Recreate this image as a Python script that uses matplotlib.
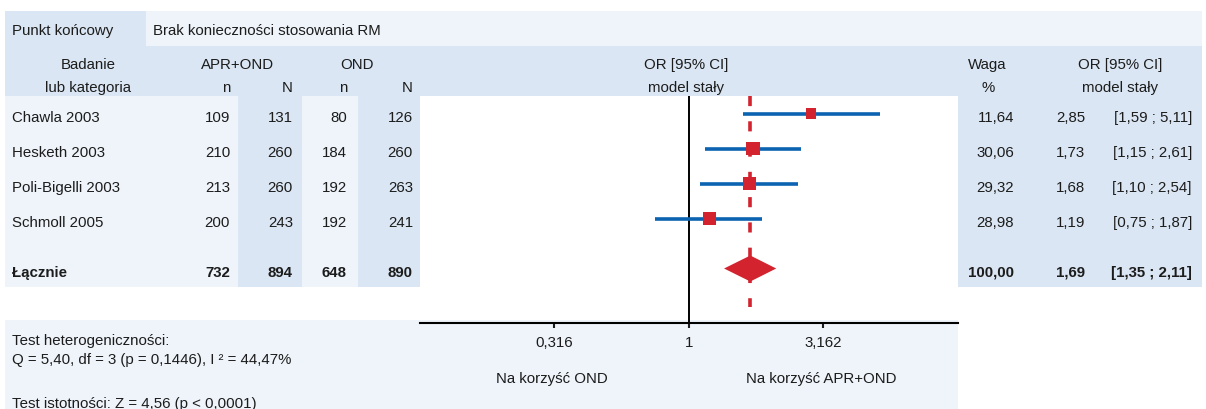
import matplotlib
matplotlib.use("Agg")
import matplotlib.pyplot as plt
from matplotlib.patches import Rectangle, Polygon
from matplotlib.ticker import NullLocator

plt.rcParams['font.family'] = ['Liberation Sans', 'DejaVu Sans']
plt.rcParams['font.size'] = 10.8

# ---------- DATA ---------- #
endpoint = "Brak konieczności stosowania RM"
studies = ["Chawla 2003", "Hesketh 2003", "Poli-Bigelli 2003", "Schmoll 2005"]
n_apr = [109, 210, 213, 200]
N_apr = [131, 260, 260, 243]
n_ond = [80, 184, 192, 192]
N_ond = [126, 260, 263, 241]
weights = [11.64, 30.06, 29.32, 28.98]
odds = [2.85, 1.73, 1.68, 1.19]
ci_low = [1.59, 1.15, 1.10, 0.75]
ci_high = [5.11, 2.61, 2.54, 1.87]
total_counts = [732, 894, 648, 890]
total_weight = 100.00
total_or = 1.69
total_low = 1.35
total_high = 2.11
het_title = "Test heterogeniczności:"
het_stats = "Q = 5,40, df = 3 (p = 0,1446), I ² = 44,47%"
sig_stats = "Test istotności: Z = 4,56 (p < 0,0001)"
tick_values = [0.316, 1, 3.162]
tick_labels = ["0,316", "1", "3,162"]

# ---------- STYLE ---------- #
W, H = 1206, 410
DARK = "#dae6f3"
LIGHT = "#eef4fa"
BLUE = "#0b63b1"
RED = "#d3232e"
INK = "#1c1c1c"


def fmt(v):
    return f"{v:.2f}".replace(".", ",")


fig = plt.figure(figsize=(W / 100, H / 100), dpi=100)
bg = fig.add_axes([0, 0, 1, 1])
bg.set_xlim(0, W)
bg.set_ylim(H, 0)
bg.axis("off")


def box(x, y, w, h, c):
    bg.add_patch(Rectangle((x, y), w, h, facecolor=c, edgecolor="none", zorder=0))


def txt(x, yc, s, ha="left", bold=False):
    bg.text(x, yc + 5.4, s, ha=ha, va="baseline", color=INK,
            fontweight="bold" if bold else "normal")


# backgrounds
box(5, 12, 141, 35, DARK)
box(146, 12, 1056, 35, LIGHT)
box(5, 47, 1197, 50, DARK)
box(5, 97, 415, 191, LIGHT)
box(238, 97, 64, 191, DARK)
box(358, 97, 62, 191, DARK)
box(958, 97, 244, 191, DARK)
box(5, 321, 953, 89, LIGHT)

# header
txt(12, 30, "Punkt końcowy")
txt(153, 30, endpoint)
txt(88, 64, "Badanie", "center")
txt(88, 87, "lub kategoria", "center")
txt(238, 64, "APR+OND", "center")
txt(357, 64, "OND", "center")
for x, s in zip([230, 293, 347, 413], ["n", "N", "n", "N"]):
    txt(x, 87, s, "right")
txt(686, 64, "OR [95% CI]", "center")
txt(686, 87, "model stały", "center")
txt(987, 64, "Waga", "center")
txt(988, 87, "%", "center")
txt(1120, 64, "OR [95% CI]", "center")
txt(1120, 87, "model stały", "center")

# rows (marks at row_y, text sits a little lower like the original)
row_y = [114.5 + 35 * i for i in range(len(studies))]
total_y = 269.5
dy = 2
for i, y in enumerate(row_y):
    t = y + dy
    txt(12, t, studies[i])
    txt(230, t, str(n_apr[i]), "right")
    txt(293, t, str(N_apr[i]), "right")
    txt(347, t, str(n_ond[i]), "right")
    txt(413, t, str(N_ond[i]), "right")
    txt(1014, t, fmt(weights[i]), "right")
    txt(1085, t, fmt(odds[i]), "right")
    txt(1192, t, f"[{fmt(ci_low[i])} ; {fmt(ci_high[i])}]", "right")

t = total_y + dy
txt(12, t, "Łącznie", bold=True)
for x, v in zip([230, 293, 347, 413], total_counts):
    txt(x, t, str(v), "right", bold=True)
txt(1014, t, fmt(total_weight), "right", bold=True)
txt(1085, t, fmt(total_or), "right", bold=True)
txt(1192, t, f"[{fmt(total_low)} ; {fmt(total_high)}]", "right", bold=True)

# footer
txt(12, 340, het_title)
txt(12, 359, het_stats)
txt(12, 403, sig_stats)
txt(552, 378, "Na korzyść OND", "center")
txt(821, 378, "Na korzyść APR+OND", "center")

# ---------- FOREST ---------- #
ax = fig.add_axes([420 / W, (H - 324) / H, 538 / W, 227 / H])
ax.set_xscale("log")
ax.set_xlim(0.1, 10)
ax.set_ylim(324, 97)
ax.patch.set_visible(False)
for side in ["top", "left", "right"]:
    ax.spines[side].set_visible(False)
ax.spines["bottom"].set_linewidth(1.5)
ax.set_yticks([])
ax.xaxis.set_minor_locator(NullLocator())
ax.set_xticks(tick_values)
ax.set_xticklabels(tick_labels)
ax.tick_params(axis="x", length=3.6, width=1.5, pad=5, colors=INK, labelsize=10.8)

ax.plot([1, 1], [97, 324], color="black", lw=1.4, zorder=1)
ax.plot([total_or, total_or], [97, 308], color=RED, lw=2.6,
        dashes=(2.8, 4.2), zorder=2)
ax.hlines(row_y, ci_low, ci_high, color=BLUE, lw=2.6, zorder=3)
sides = [(8 + 0.18 * w) * 0.72 for w in weights]
ax.scatter(odds, row_y, marker="s", s=[s ** 2 for s in sides], color=RED,
           linewidths=0, zorder=4)
ax.add_patch(Polygon([(total_low, total_y), (total_or, total_y - 13),
                      (total_high, total_y), (total_or, total_y + 13)],
                     closed=True, facecolor=RED, edgecolor="none", zorder=4))

fig.savefig("out.png", dpi=100)
